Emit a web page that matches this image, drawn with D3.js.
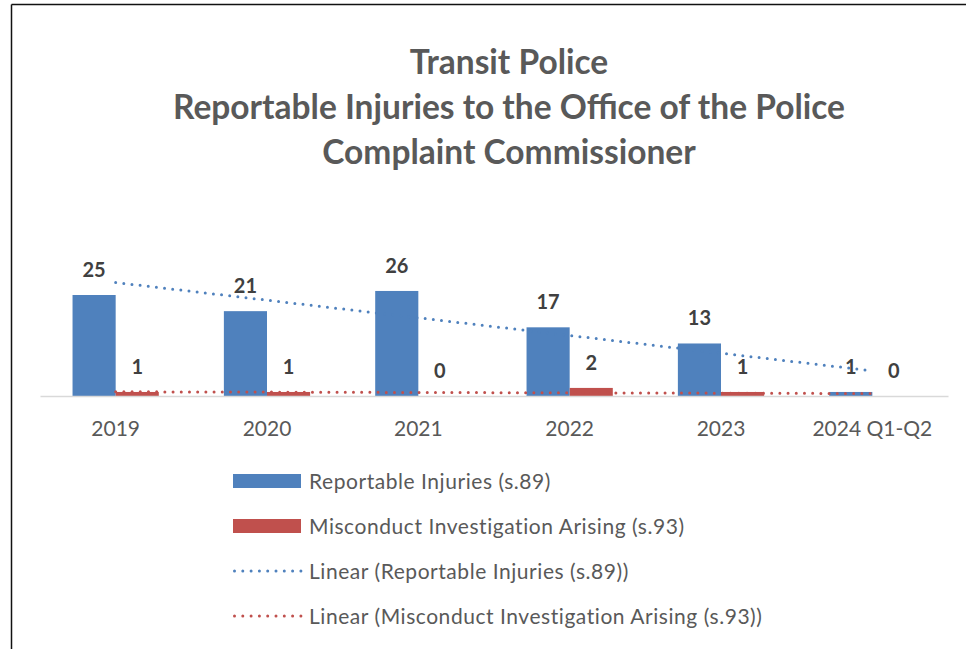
<!DOCTYPE html>
<html>
<head>
<meta charset="utf-8">
<script src="https://cdn.jsdelivr.net/npm/d3@7"></script>
<style>
  body { margin: 0; background: #fff; }
  .title { font-family: Lato, "Open Sans", sans-serif; font-weight: bold; font-size: 33.5px; fill: #595959; }
  .tick text { font-family: Lato, sans-serif; font-size: 21px; fill: #595959; }
  .label { font-family: Lato, sans-serif; font-weight: bold; font-size: 20px; fill: #404040; }
  .legendText { font-family: Lato, sans-serif; font-size: 21px; letter-spacing: 0.55px; fill: #595959; }
</style>
</head>
<body>
<div class="chart"></div>
<script>
var width = 966
var height = 649

var categories = ["2019", "2020", "2021", "2022", "2023", "2024 Q1-Q2"];
var injuries = [25, 21, 26, 17, 13, 1];
var misconduct = [1, 1, 0, 2, 1, 0];
var seriesNames = ["Reportable Injuries (s.89)", "Misconduct Investigation Arising (s.93)"];
var titleLines = ["Transit Police", "Reportable Injuries to the Office of the Police", "Complaint Commissioner"];

var blue = "#4f81bd"
var red = "#c0504d"

var svg = d3.select(".chart").append("svg")
            .attr("width", width)
            .attr("height", height);

// frame (only top and left edges show in the screenshot)
svg.append("line").attr("x1", 11.5).attr("y1", 4.5).attr("x2", width).attr("y2", 4.5)
   .attr("stroke", "#111").attr("stroke-width", 1.5);
svg.append("line").attr("x1", 11.5).attr("y1", 4.5).attr("x2", 11.5).attr("y2", height)
   .attr("stroke", "#111").attr("stroke-width", 1.5);

svg.selectAll(".title")
   .data(titleLines)
   .enter()
   .append("text")
   .attr("class", "title")
   .attr("x", 509)
   .attr("y", function(d, i) { return 74 + i * 45; })
   .attr("text-anchor", "middle")
   .text(function(d) { return d; });

var x = d3.scaleBand()
          .domain(categories)
          .range([40, 948])
          .paddingInner(0.43)
          .paddingOuter(0.215);

var xSub = d3.scaleBand()
             .domain([0, 1])
             .range([0, x.bandwidth()]);

var y = d3.scaleLinear()
          .domain([0, 30])
          .range([396, 396 - 30 * 4.04]);

var rows = categories.map(function(c, i) {
  return { cat: c, values: [injuries[i], misconduct[i]] };
});

var groups = svg.selectAll(".group")
                .data(rows)
                .enter()
                .append("g")
                .attr("class", "group")
                .attr("transform", function(d) { return "translate(" + x(d.cat) + ",0)"; });

groups.selectAll("rect")
      .data(function(d) { return d.values; })
      .enter()
      .append("rect")
      .attr("x", function(d, i) { return xSub(i); })
      .attr("y", function(d) { return y(d); })
      .attr("width", xSub.bandwidth())
      .attr("height", function(d) { return y(0) - y(d); })
      .attr("fill", function(d, i) { return i == 0 ? blue : red; });

var xAxis = svg.append("g")
               .attr("transform", "translate(0," + y(0) + ")")
               .call(d3.axisBottom(x).tickSize(0).tickSizeOuter(0).tickPadding(25));
xAxis.select(".domain").attr("stroke", "#d9d9d9").attr("stroke-width", 1.5);

// linear trend lines, least squares on category index
var trend = function(vals) {
  var n = vals.length;
  var xs = d3.range(1, n + 1);
  var mx = d3.mean(xs), my = d3.mean(vals);
  var sxy = d3.sum(xs, function(v, i) { return (v - mx) * (vals[i] - my); });
  var sxx = d3.sum(xs, function(v) { return (v - mx) * (v - mx); });
  var slope = sxy / sxx;
  return function(t) { return my + slope * (t - mx); };
};

var cx = function(i) { return x(categories[i]) + x.bandwidth() / 2; };
var last = categories.length - 1;

[[injuries, blue], [misconduct, red]].forEach(function(s) {
  var f = trend(s[0]);
  svg.append("line")
     .attr("x1", cx(0)).attr("y1", y(f(1)))
     .attr("x2", cx(last)).attr("y2", y(f(last + 1)))
     .attr("stroke", s[1])
     .attr("stroke-width", 3)
     .attr("stroke-linecap", "round")
     .attr("stroke-dasharray", "0 8.2");
});

groups.selectAll(".label")
      .data(function(d) { return d.values; })
      .enter()
      .append("text")
      .attr("class", "label")
      .attr("x", function(d, i) { return xSub(i) + xSub.bandwidth() / 2; })
      .attr("y", function(d) { return y(d) - 18; })
      .attr("text-anchor", "middle")
      .text(function(d) { return d; });

// legend
var legendItems = [
  { name: seriesNames[0], color: blue, type: "bar" },
  { name: seriesNames[1], color: red, type: "bar" },
  { name: "Linear (" + seriesNames[0] + ")", color: blue, type: "line" },
  { name: "Linear (" + seriesNames[1] + ")", color: red, type: "line" }
];

var legend = svg.selectAll(".legend")
                .data(legendItems)
                .enter()
                .append("g")
                .attr("class", "legend")
                .attr("transform", function(d, i) { return "translate(233," + (481 + i * 45) + ")"; });

legend.filter(function(d) { return d.type == "bar"; })
      .append("rect")
      .attr("x", 0).attr("y", -7)
      .attr("width", 68).attr("height", 14)
      .attr("fill", function(d) { return d.color; });

legend.filter(function(d) { return d.type == "line"; })
      .append("line")
      .attr("x1", 1.5).attr("x2", 68).attr("y1", 0).attr("y2", 0)
      .attr("stroke", function(d) { return d.color; })
      .attr("stroke-width", 3)
      .attr("stroke-linecap", "round")
      .attr("stroke-dasharray", "0 8.3");

legend.append("text")
      .attr("class", "legendText")
      .attr("x", 76)
      .attr("y", 7.5)
      .text(function(d) { return d.name; });
</script>
</body>
</html>
